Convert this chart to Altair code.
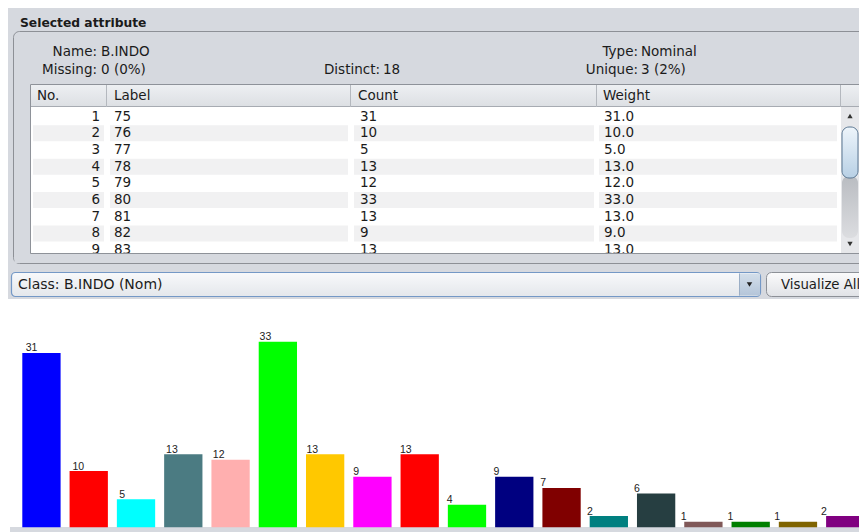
import altair as alt
import pandas as pd

# ---------------- data ----------------
labels = ["75", "76", "77", "78", "79", "80", "81", "82", "83",
          "84", "85", "86", "87", "88", "89", "90", "91", "92"]
counts = [31, 10, 5, 13, 12, 33, 13, 9, 13, 4, 9, 7, 2, 6, 1, 1, 1, 2]
bar_colors = ["#0000ff", "#ff0000", "#00ffff", "#4b7b82", "#ffafaf", "#00ff00",
              "#ffc800", "#ff00ff", "#ff0000", "#00ff00", "#000080", "#800000",
              "#008080", "#263e41", "#805858", "#008000", "#806400", "#800080"]

table_no = [1, 2, 3, 4, 5, 6, 7, 8, 9]
table_labels = ["75", "76", "77", "78", "79", "80", "81", "82", "83"]
table_counts = [31, 10, 5, 13, 12, 33, 13, 9, 13]
table_weights = [31.0, 10.0, 5.0, 13.0, 12.0, 33.0, 13.0, 9.0, 13.0]
table_headers = ["No.", "Label", "Count", "Weight"]

panel_title = "Selected attribute"
info_left_keys = ["Name:", "Missing:"]
info_left_vals = ["B.INDO", "0 (0%)"]
info_mid_keys = ["Distinct:"]
info_mid_vals = ["18"]
info_right_keys = ["Type:", "Unique:"]
info_right_vals = ["Nominal", "3 (2%)"]
class_text = "Class: B.INDO (Nom)"
button_text = "Visualize All"

# ---------------- layout (page pixels) ----------------
OFF = 8
W, H = 851, 524
BG = "#d6d9df"
FONT = "DejaVu Sans"
TXT = "#1b1b1b"

def X(f):
    return alt.X(f, type="quantitative", axis=None,
                 scale=alt.Scale(domain=[OFF, OFF + W], range=[0, W], nice=False, zero=False))

def Y(f):
    return alt.Y(f, type="quantitative", axis=None,
                 scale=alt.Scale(domain=[OFF, OFF + H], range=[0, H], nice=False, zero=False))

def rects(rows, **kw):
    df = pd.DataFrame(rows, columns=["x", "x2", "y", "y2"])
    return alt.Chart(df).mark_rect(**kw).encode(x=X("x"), x2="x2", y=Y("y"), y2="y2")

def texts(rows, **kw):
    df = pd.DataFrame(rows, columns=["x", "y", "t"])
    base = dict(font=FONT, fontSize=13.5, color=TXT, baseline="middle")
    base.update(kw)
    return alt.Chart(df).mark_text(**base).encode(x=X("x"), y=Y("y"), text="t:N")

def points(rows, **kw):
    df = pd.DataFrame(rows, columns=["x", "y"])
    return alt.Chart(df).mark_point(**kw).encode(x=X("x"), y=Y("y"))

def vgrad(c1, c2):
    return alt.Gradient(gradient="linear", x1=0, x2=0, y1=0, y2=1,
                        stops=[alt.GradientStop(color=c1, offset=0),
                               alt.GradientStop(color=c2, offset=1)])

layers = []
# background panel
layers.append(rects([[0, 880, 0, 299]], fill=BG))
layers.append(rects([[10, 880, 527, 540]], fill=BG))
# titled border
layers.append(rects([[13.5, 900, 31.5, 263.5]], fill=BG, stroke="#8d9096",
                    strokeWidth=1, cornerRadius=6))
layers.append(texts([[20, 23, panel_title]], font=FONT, fontWeight="bold",
                    fontSize=12.3, align="left"))
# attribute info
layers.append(texts([[97, 52 + 17.5 * i, k] for i, k in enumerate(info_left_keys)], align="right"))
layers.append(texts([[101, 52 + 17.5 * i, v] for i, v in enumerate(info_left_vals)], align="left"))
layers.append(texts([[380, 69.5, info_mid_keys[0]]], align="right"))
layers.append(texts([[383, 69.5, info_mid_vals[0]]], align="left"))
layers.append(texts([[638, 52 + 17.5 * i, k] for i, k in enumerate(info_right_keys)], align="right"))
layers.append(texts([[641, 52 + 17.5 * i, v] for i, v in enumerate(info_right_vals)], align="left"))

# table
T_L, T_R, T_T, T_B = 30, 860, 84, 253
HDR_B = 107
ROW0, ROW_H = 116.7, 16.67
layers.append(rects([[T_L, T_R, T_T, T_B]], fill="white"))
cells = [[33, 104], [110, 348], [354, 594], [599, 837]]
band_rows = []
for i in range(len(table_no)):
    if i % 2 == 1:
        yc = ROW0 + i * ROW_H
        for c in cells:
            band_rows.append([c[0], c[1], yc - 8, yc + 8])
layers.append(rects(band_rows, fill="#f1f1f2"))
layers.append(rects([[T_L, T_R, T_T, HDR_B]], fill=vgrad("#eef0f3", "#dcdfe3")))
layers.append(rects([[T_L, T_R, HDR_B - 1, HDR_B]], fill="#a7abb2"))
layers.append(rects([[s, s + 1, T_T, HDR_B] for s in [106, 350, 596, 840]], fill="#b4b8be"))
hdr_x = [37, 114, 358, 603]
layers.append(texts([[hdr_x[j], 96, h] for j, h in enumerate(table_headers)], align="left"))
layers.append(texts([[100, ROW0 + i * ROW_H, str(n)] for i, n in enumerate(table_no)], align="right"))
layers.append(texts([[114, ROW0 + i * ROW_H, l] for i, l in enumerate(table_labels)], align="left"))
layers.append(texts([[360, ROW0 + i * ROW_H, str(c)] for i, c in enumerate(table_counts)], align="left"))
layers.append(texts([[604, ROW0 + i * ROW_H, f"{w:.1f}"] for i, w in enumerate(table_weights)], align="left"))
# cover below table (clips last row)
layers.append(rects([[14.5, 880, T_B, 263]], fill=BG))
layers.append(rects([[T_L + 0.5, T_R - 0.5, T_T + 0.5, T_B + 0.5]], fill="transparent",
                    stroke="#8e9299", strokeWidth=1))
# scrollbar
layers.append(rects([[841, 859.5, HDR_B, T_B]], fill="#e6e7ea"))
layers.append(rects([[842, 858, 176, 238]], fill=vgrad("#b9bcc1", "#dcdde0"), cornerRadius=7))
layers.append(rects([[842, 858, 127, 178]], fill=vgrad("#eef5fb", "#b8d0e5"),
                    stroke="#5b7792", strokeWidth=1, cornerRadius=7))
layers.append(points([[850, 116]], shape="triangle-up", filled=True, size=28, color="#333333", opacity=1))
layers.append(points([[850, 244]], shape="triangle-down", filled=True, size=28, color="#333333", opacity=1))

# class combobox and button
layers.append(rects([[11.5, 760.5, 272.5, 296.5]], fill=vgrad("#f8f9fb", "#e4e7eb"),
                    stroke="#7498c6", strokeWidth=1.2, cornerRadius=4))
layers.append(rects([[739, 760, 273.5, 295.5]], fill=vgrad("#d3deea", "#b4c5d9")))
layers.append(rects([[739, 740, 273.5, 295.5]], fill="#9aaec6"))
layers.append(points([[749.5, 284.5]], shape="triangle-down", filled=True, size=30, color="#222222", opacity=1))
layers.append(texts([[18, 285, class_text]], align="left", fontSize=14))
layers.append(rects([[766.5, 900, 272.5, 296.5]], fill=vgrad("#fbfbfc", "#e0e2e6"),
                    stroke="#8c9097", strokeWidth=1, cornerRadius=5))
layers.append(texts([[781, 285, button_text]], align="left", fontSize=13.3))

# bar chart (through band + linear scales)
bars_df = pd.DataFrame({"label": labels, "count": counts, "color": bar_colors})
band = alt.Scale(range=[22.3 - OFF, 864.4 - OFF], paddingInner=0.19, paddingOuter=0)
lin = alt.Scale(domain=[0, 33], range=[527.3 - OFF, 341.7 - OFF], nice=False, zero=True)
bars = alt.Chart(bars_df).mark_bar().encode(
    x=alt.X("label:N", sort=None, scale=band, axis=None),
    y=alt.Y("count:Q", scale=lin, axis=None),
    color=alt.Color("color:N", scale=None),
)
bar_text = alt.Chart(bars_df).mark_text(
    align="left", baseline="alphabetic", dx=-20, dy=-1.5,
    font="Liberation Sans", fontSize=10.5, color="#222222"
).encode(
    x=alt.X("label:N", sort=None, scale=band, axis=None),
    y=alt.Y("count:Q", scale=lin, axis=None),
    text="count:Q",
)
layers.append(bars)
layers.append(bar_text)

chart = alt.layer(*layers).resolve_scale(x="independent", y="independent").properties(
    width=W, height=H, background="white", padding=0,
    autosize=alt.AutoSizeParams(type="none"),
).configure_view(stroke=None)

chart.save("out.html", embed_options={"renderer": "svg", "actions": False})
